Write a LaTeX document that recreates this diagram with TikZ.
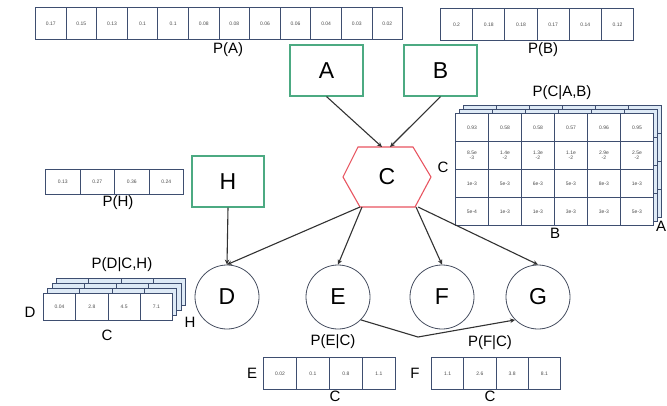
\documentclass[tikz,border=0pt]{standalone}
\usepackage{fontspec}
\setmainfont{Liberation Sans}
\usetikzlibrary{arrows.meta,calc}
\definecolor{grn}{RGB}{76,170,130}
\definecolor{hexred}{RGB}{232,84,96}
\definecolor{tblc}{RGB}{62,78,112}
\definecolor{lb}{RGB}{222,234,246}
\definecolor{edgec}{RGB}{50,50,50}
\definecolor{circc}{RGB}{70,78,96}
\tikzset{
  bigtxt/.style={font=\fontsize{23}{26}\selectfont},
  lbl/.style={font=\fontsize{15}{17}\selectfont, inner sep=0pt},
  gbox/.style={draw=grn, line width=1.1pt, minimum width=73pt, minimum height=51pt, bigtxt, fill=white},
  vcirc/.style={draw=circc, circle, minimum size=64pt, bigtxt, line width=0.8pt},
  cellst/.style={draw=tblc, line width=0.9pt, inner sep=0pt, font=\fontsize{5}{5.5}\selectfont, align=center, text=black!70},
  conn/.style={draw=edgec, line width=1.1pt, -{Stealth[length=5pt,width=4.5pt]}},
  backst/.style={draw=tblc, line width=0.8pt, fill=lb}
}
\newcommand\tblrow[7]{%
  \foreach \v [count=\i] in {#6} {
    \node[cellst, fill=#7, minimum width=#4pt, minimum height=#5pt, anchor=north west]
      (#1-\i) at ({#2+(\i-1)*#4}, #3) {\v};
  }}
\newcommand\backlayer[6]{% x y ncols nrows cw ch
  \draw[backst] (#1,#2) rectangle ({#1+#3*#5},{#2+#4*#6});
  \foreach \k in {1,...,\numexpr#3-1\relax} \draw[tblc, line width=0.8pt] ({#1+\k*#5},#2) -- ++(0,{#4*#6});
  \foreach \k in {1,...,\numexpr#4-1\relax} \draw[tblc, line width=0.8pt] (#1,{#2+\k*#6}) -- ++({#3*#5},0);
}
\begin{document}
\begin{tikzpicture}[x=1pt,y=-1pt]
\useasboundingbox[fill=white] (0,0) rectangle (667,405);

% ---- P(A)
\tblrow{pa}{35}{7}{30.6}{32}{0.17,0.15,0.13,0.1,0.1,0.08,0.08,0.06,0.06,0.04,0.03,0.02}{white}
\node[lbl] (lpa) at (228,50) {P(A)};
% ---- P(B)
\tblrow{pb}{440}{8}{32.2}{32}{0.2,0.18,0.18,0.17,0.14,0.12}{white}
\node[lbl] (lpb) at (543,50) {P(B)};

% ---- P(C|A,B)
\backlayer{463}{105}{6}{4}{33}{28}
\backlayer{459}{109}{6}{4}{33}{28}
\tblrow{ca}{455}{113}{33}{28}{0.93,0.58,0.58,0.57,0.96,0.95}{white}
\tblrow{cb}{455}{141}{33}{28}{{8.5e\\-3},{1.4e\\-2},{1.3e\\-2},{1.1e\\-2},{2.9e\\-2},{2.5e\\-2}}{white}
\tblrow{cc}{455}{169}{33}{28}{1e-3,5e-3,6e-3,5e-3,8e-3,1e-3}{white}
\tblrow{cd}{455}{197}{33}{28}{5e-4,1e-3,1e-3,3e-3,3e-3,5e-3}{white}
\node[lbl] (lpc) at (562,93) {P(C|A,B)};
\node[lbl] (lpcC) at (443,167) {C};
\node[lbl] (lpcB) at (555,233) {B};
\node[lbl] (lpcA) at (661,226) {A};

% ---- P(H)
\tblrow{ph}{45}{169}{34.5}{25}{0.13,0.27,0.36,0.24}{white}
\node[lbl] (lph) at (118,203) {P(H)};

% ---- P(D|C,H)
\backlayer{56.5}{278}{4}{1}{32.25}{27}
\backlayer{52}{283}{4}{1}{32.25}{27}
\backlayer{47.5}{288}{4}{1}{32.25}{27}
\tblrow{pd}{43}{293}{32.25}{27}{0.04,2.8,4.5,7.1}{white}
\node[lbl] (lpd) at (122,265) {P(D|C,H)};
\node[lbl] (lpdD) at (30,312) {D};
\node[lbl] (lpdH) at (190,322) {H};
\node[lbl] (lpdC) at (107,335) {C};

% ---- P(E|C)
\tblrow{pe}{263}{357}{33}{32}{0.02,0.1,0.8,1.1}{white}
\node[lbl] (lpe) at (333,342) {P(E|C)};
\node[lbl] (lpeE) at (252,373) {E};
\node[lbl] (lpeC) at (335,396) {C};

% ---- P(F|C)
\tblrow{pf}{431}{357}{32.25}{32}{1.1,2.6,3.8,8.1}{white}
\node[lbl] (lpf) at (490,343) {P(F|C)};
\node[lbl] (lpfF) at (415,373) {F};
\node[lbl] (lpfC) at (490,396) {C};

% ---- variable nodes
\node[gbox] (A) at (326.5,70.5) {A};
\node[gbox] (B) at (440.5,70.5) {B};
\node[gbox, minimum width=72pt] (H) at (228,181.5) {H};

\node[bigtxt, inner sep=0pt] (C) at (387,177) {C};
\coordinate (cl) at (343,177);
\coordinate (ctl) at (358,147);
\coordinate (ctr) at (413,147);
\coordinate (cr) at (431,177);
\coordinate (cbr) at (415,207);
\coordinate (cbl) at (360,207);
\draw[hexred, line width=1.1pt] (cl) -- (ctl) -- (ctr) -- (cr) -- (cbr) -- (cbl) -- cycle;
\coordinate (cinA) at (382,147);
\coordinate (cinB) at (390,147);
\coordinate (coD) at (360,207);
\coordinate (coE) at (362,207);
\coordinate (coF) at (416,207);
\coordinate (coG) at (418,207);

\node[vcirc] (D) at (227,297) {D};
\node[vcirc] (E) at (338,297) {E};
\node[vcirc] (F) at (442,297) {F};
\node[vcirc] (G) at (538,297) {G};

\draw[conn] (A.south) -- (cinA);
\draw[conn] (B.south) -- (cinB);
\draw[conn] (H.south) -- (D.north);
\draw[conn] (coD) -- (D.north);
\draw[conn] (coE) -- (E.north);
\draw[conn] (coF) -- (F.north);
\draw[conn] (coG) -- (G.north);
\coordinate (bend) at (418,337);
\draw[conn] (E.south east) -- (bend) -- (G.south west);
\end{tikzpicture}
\end{document}
